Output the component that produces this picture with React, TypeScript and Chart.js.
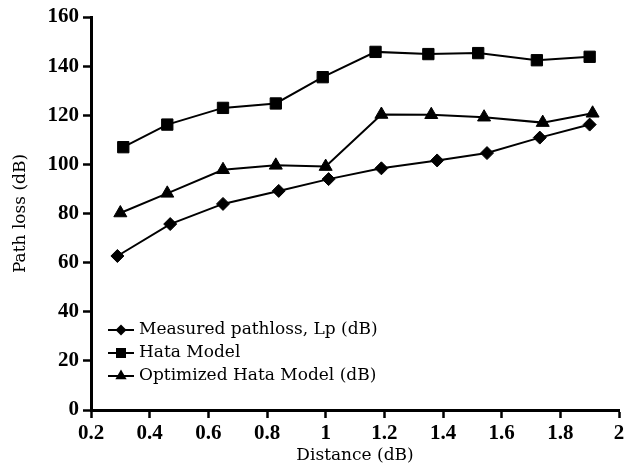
import React, { useEffect, useRef } from "react";
import { Chart, registerables } from "chart.js";

Chart.register(...registerables);

// Distance (km) and path loss (dB) for each model
const measuredX = [0.29, 0.47, 0.65, 0.84, 1.01, 1.19, 1.38, 1.55, 1.73, 1.9];
const measuredY = [62.7, 75.7, 83.9, 89.2, 94.0, 98.4, 101.6, 104.6, 110.9, 116.2];

const hataX = [0.31, 0.46, 0.65, 0.83, 0.99, 1.17, 1.35, 1.52, 1.72, 1.9];
const hataY = [107, 116.2, 123, 124.8, 135.5, 145.8, 144.9, 145.3, 142.4, 143.8];

const optX = [0.3, 0.46, 0.65, 0.83, 1.0, 1.19, 1.36, 1.54, 1.74, 1.91];
const optY = [80.2, 88.2, 97.8, 99.6, 99.1, 120.3, 120.2, 119.2, 117.0, 120.8];

const seriesLabels = [
  "Measured pathloss, Lp (dB)",
  "Hata Model",
  "Optimized Hata Model (dB)",
];

const xTickValues = [0.2, 0.4, 0.6, 0.8, 1, 1.2, 1.4, 1.6, 1.8, 2];
const yTickValues = [0, 20, 40, 60, 80, 100, 120, 140, 160];

const xTitle = "Distance (dB)";
const yTitle = "Path loss (dB)";

const toPoints = (xs: number[], ys: number[]) => xs.map((x, i) => ({ x, y: ys[i] }));

const TICK_FONT = { family: "'Liberation Serif', 'Times New Roman', serif", size: 21, weight: "bold" as const };
const TEXT_FONT = "17px 'DejaVu Serif', serif";

// Draws the legend inside the plot, lower left
const insideLegend = {
  id: "insideLegend",
  afterDraw(chart: any) {
    const ctx = chart.ctx as CanvasRenderingContext2D;
    const rows = [330, 353, 376];
    const x0 = 108;
    const x1 = 134;
    const mx = (x0 + x1) / 2;
    ctx.save();
    chart.data.datasets.forEach((ds: any, i: number) => {
      const y = rows[i];
      ctx.strokeStyle = "#000";
      ctx.fillStyle = "#000";
      ctx.lineWidth = 2;
      ctx.beginPath();
      ctx.moveTo(x0, y);
      ctx.lineTo(x1, y);
      ctx.stroke();
      ctx.beginPath();
      if (ds.pointStyle === "rectRot") {
        const r = 5.5;
        ctx.moveTo(mx, y - r);
        ctx.lineTo(mx + r, y);
        ctx.lineTo(mx, y + r);
        ctx.lineTo(mx - r, y);
      } else if (ds.pointStyle === "rect") {
        const h = 5;
        ctx.rect(mx - h, y - h, 2 * h, 2 * h);
      } else {
        const r = 6.5;
        ctx.moveTo(mx, y - r);
        ctx.lineTo(mx + r * 0.866, y + r * 0.5);
        ctx.lineTo(mx - r * 0.866, y + r * 0.5);
      }
      ctx.closePath();
      ctx.fill();
      ctx.font = TEXT_FONT;
      ctx.textBaseline = "middle";
      ctx.textAlign = "left";
      ctx.fillText(ds.label, 139, y);
    });
    ctx.restore();
  },
};

export default function App() {
  const canvasRef = useRef<HTMLCanvasElement | null>(null);

  useEffect(() => {
    if (!canvasRef.current) return;
    const common = {
      borderColor: "#000",
      backgroundColor: "#000",
      pointBackgroundColor: "#000",
      pointBorderColor: "#000",
      borderWidth: 2,
      pointBorderWidth: 1,
      tension: 0,
      showLine: true,
    };
    const chart = new Chart(canvasRef.current, {
      type: "scatter",
      data: {
        datasets: [
          { ...common, label: seriesLabels[0], data: toPoints(measuredX, measuredY), pointStyle: "rectRot", pointRadius: 6.5 },
          { ...common, label: seriesLabels[1], data: toPoints(hataX, hataY), pointStyle: "rect", pointRadius: 8 },
          { ...common, label: seriesLabels[2], data: toPoints(optX, optY), pointStyle: "triangle", pointRadius: 7.5 },
        ],
      },
      options: {
        animation: false,
        responsive: false,
        layout: { padding: { left: 0, top: 17, right: 15, bottom: 0 } },
        plugins: {
          legend: { display: false },
          tooltip: { enabled: false },
        },
        scales: {
          x: {
            type: "linear",
            min: 0.2,
            max: 2,
            afterBuildTicks: (scale: any) => {
              scale.ticks = xTickValues.map((v) => ({ value: v }));
            },
            afterFit: (scale: any) => {
              scale.height = 63;
            },
            ticks: {
              color: "#000",
              font: TICK_FONT,
              padding: 3,
              maxRotation: 0,
              autoSkip: false,
              callback: (v: any) => String(Number(Number(v).toFixed(1))),
            },
            grid: {
              display: true,
              drawOnChartArea: false,
              drawTicks: true,
              tickLength: 8,
              tickWidth: 2.5,
              tickColor: "#000",
            },
            border: { display: true, color: "#000", width: 3 },
            title: {
              display: true,
              text: xTitle,
              color: "#000",
              font: { family: "'DejaVu Serif', serif", size: 17 },
              padding: { top: 0, bottom: 7 },
            },
          },
          y: {
            type: "linear",
            min: 0,
            max: 160,
            afterBuildTicks: (scale: any) => {
              scale.ticks = yTickValues.map((v) => ({ value: v }));
            },
            afterFit: (scale: any) => {
              scale.width = 91;
            },
            ticks: {
              color: "#000",
              font: TICK_FONT,
              padding: 4,
              autoSkip: false,
            },
            grid: {
              display: true,
              drawOnChartArea: false,
              drawTicks: true,
              tickLength: 8,
              tickWidth: 2.5,
              tickColor: "#000",
            },
            border: { display: true, color: "#000", width: 3 },
            title: {
              display: true,
              text: yTitle,
              color: "#000",
              font: { family: "'DejaVu Serif', serif", size: 17 },
              padding: { top: 10, bottom: 0 },
            },
          },
        },
      } as any,
      plugins: [insideLegend],
    });
    return () => chart.destroy();
  }, []);

  return (
    <div style={{ position: "fixed", left: 0, top: 0, width: 634, height: 473, background: "#fff" }}>
      <canvas ref={canvasRef} width={634} height={473} style={{ display: "block" }} />
    </div>
  );
}
